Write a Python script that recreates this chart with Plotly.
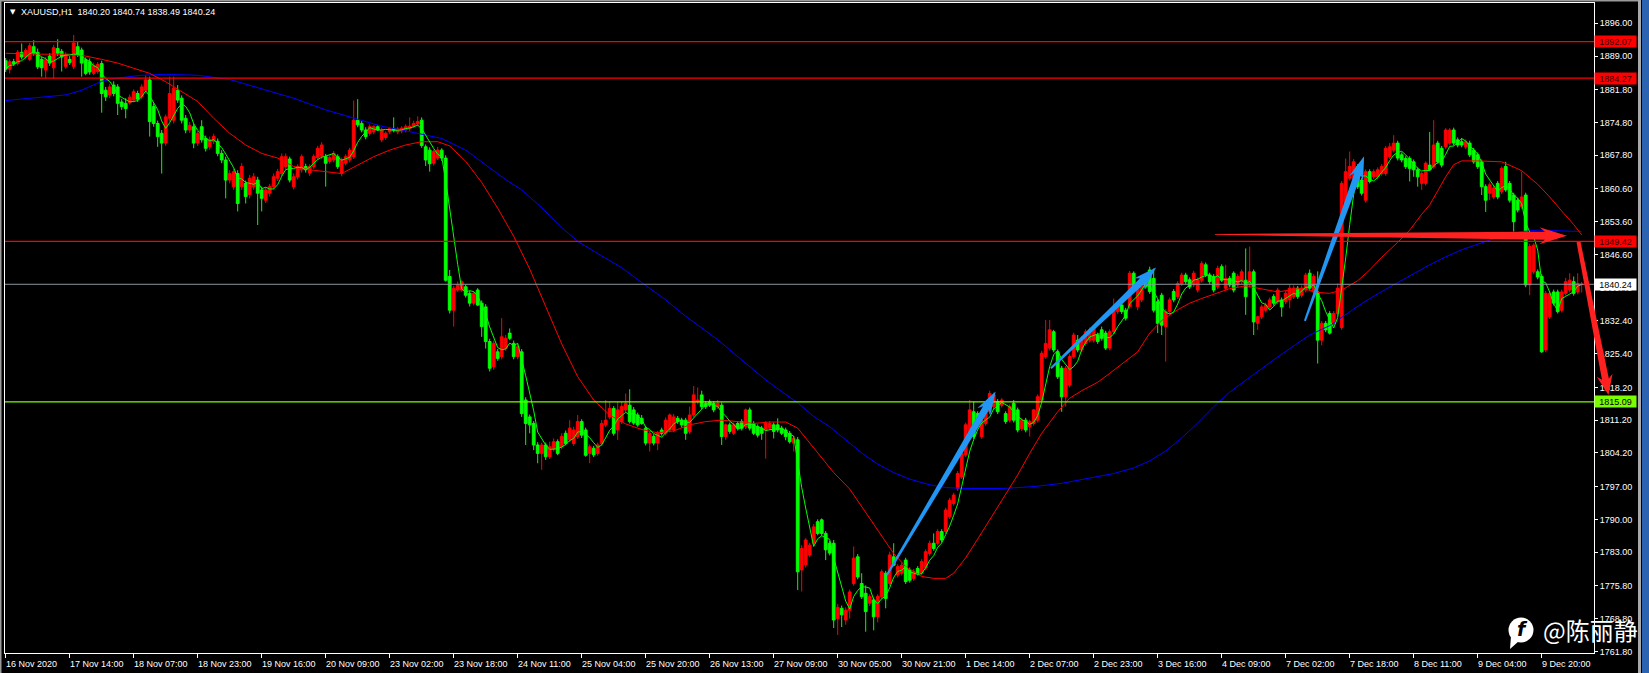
import math
import pandas as pd
import plotly.graph_objects as go

# ---------------- data (XAUUSD H1) ----------------
opens = [
    1888.0,1886.2,1887.8,1887.4,1889.8,1888.8,1888.3,1891.0,1889.8,1888.3,
    1886.0,1889.0,1886.5,1890.6,1890.0,1886.8,1888.3,1886.8,1891.0,1890.3,
    1888.2,1887.8,1885.3,1885.7,1887.4,1881.7,1880.7,1882.8,1882.4,1879.2,
    1878.9,1879.0,1879.6,1881.0,1880.3,1881.7,1883.9,1878.2,1874.6,1872.5,
    1870.4,1875.7,1875.3,1881.7,1880.0,1875.7,1873.2,1873.9,1870.4,1873.9,
    1871.4,1869.6,1870.8,1870.8,1868.2,1866.8,1862.5,1861.1,1863.9,1861.1,
    1861.8,1859.4,1861.1,1862.5,1860.4,1858.2,1859.7,1861.1,1862.9,1863.9,
    1865.4,1867.0,1861.1,1863.2,1864.7,1865.4,1864.0,1865.4,1867.3,1867.6,
    1867.5,1866.5,1866.8,1867.5,1863.9,1866.1,1866.8,1867.5,1875.3,1874.6,
    1873.2,1872.5,1872.8,1873.9,1871.1,1871.6,1872.8,1873.5,1872.8,1873.0,
    1873.2,1873.5,1874.0,1874.5,1875.3,1869.6,1868.9,1866.1,1867.2,1868.9,
    1867.2,1841.9,1834.7,1839.0,1839.0,1839.7,1838.3,1836.2,1839.0,1836.2,
    1835.4,1828.0,1822.6,1825.8,1824.8,1826.5,1829.8,1827.6,1824.8,1825.8,
    1815.5,1811.9,1810.5,1805.9,1804.1,1805.9,1803.4,1805.0,1806.6,1805.5,
    1808.4,1807.0,1806.2,1807.7,1810.9,1809.1,1804.1,1805.2,1804.1,1806.2,
    1810.2,1811.9,1813.7,1809.1,1810.9,1813.4,1814.4,1813.4,1812.3,1811.6,
    1809.5,1806.3,1807.7,1806.3,1809.1,1808.4,1809.1,1809.1,1811.6,1811.2,
    1811.2,1808.7,1812.3,1815.1,1816.6,1814.8,1815.1,1814.8,1814.1,1814.4,
    1807.7,1810.2,1808.4,1810.5,1810.9,1809.8,1813.4,1810.5,1809.8,1809.5,
    1809.1,1809.5,1810.2,1810.2,1809.5,1809.1,1808.4,1806.3,1807.0,1779.2,
    1780.3,1782.4,1784.9,1789.5,1789.9,1787.0,1784.9,1784.9,1768.8,1771.0,
    1768.5,1770.6,1776.3,1782.0,1776.3,1774.2,1772.1,1772.8,1769.2,1773.5,
    1778.5,1776.3,1782.0,1778.1,1778.5,1781.3,1779.2,1777.4,1779.5,1778.5,
    1779.6,1782.7,1784.9,1784.9,1787.4,1787.4,1790.6,1793.4,1796.6,1799.1,
    1803.8,1807.7,1813.0,1812.6,1807.7,1810.5,1813.0,1814.1,1815.2,1814.4,
    1812.6,1811.2,1814.8,1813.4,1809.4,1811.2,1809.8,1810.5,1811.2,1815.5,
    1824.8,1826.6,1830.1,1825.8,1822.3,1816.2,1818.7,1824.8,1828.3,1826.2,
    1827.6,1828.3,1828.3,1829.4,1830.5,1829.8,1826.6,1830.1,1834.4,1835.8,
    1834.7,1835.5,1842.6,1835.5,1836.9,1841.5,1843.3,1841.5,1836.5,1837.9,
    1831.2,1834.4,1838.7,1837.6,1840.4,1842.2,1841.2,1840.1,1839.0,1841.1,
    1844.4,1842.2,1841.9,1839.7,1844.0,1839.4,1841.5,1842.6,1840.1,1840.8,
    1841.1,1840.1,1842.9,1831.9,1833.3,1834.7,1835.4,1837.6,1836.5,1836.9,
    1836.5,1836.9,1837.6,1839.4,1837.9,1839.0,1842.6,1838.6,1838.6,1828.3,
    1831.9,1834.0,1831.9,1834.0,1831.0,1857.5,1862.9,1862.9,1865.4,1862.5,
    1858.2,1864.3,1863.2,1863.2,1863.9,1863.9,1867.5,1868.9,1870.4,1867.9,
    1867.1,1867.1,1866.4,1864.7,1861.8,1861.8,1865.7,1865.4,1870.4,1869.3,
    1869.6,1870.4,1873.2,1871.1,1870.7,1869.6,1870.4,1868.9,1867.9,1866.4,
    1861.1,1859.7,1858.9,1861.8,1860.0,1865.4,1861.8,1859.3,1858.2,1856.8,
    1859.3,1840.1,1842.9,1842.9,1841.9,1826.2,1833.3,1838.6,1838.6,1834.7,
    1838.3,1839.0,1840.8,1838.6,1840.20,
]
highs = [
    1888.6,1888.3,1888.4,1890.3,1891.7,1890.7,1891.8,1892.4,1890.6,1888.8,
    1888.8,1889.6,1891.4,1892.6,1890.5,1889.8,1889.0,1893.5,1892.1,1890.8,
    1888.7,1888.5,1887.6,1887.7,1888.0,1882.4,1883.0,1883.6,1883.0,1879.8,
    1880.0,1880.8,1881.9,1881.6,1883.0,1884.9,1884.6,1878.9,1875.2,1873.2,
    1876.5,1884.6,1884.6,1882.8,1880.6,1876.4,1874.9,1874.6,1873.0,1875.3,
    1872.0,1871.8,1872.4,1871.4,1868.9,1867.5,1864.6,1864.9,1864.6,1866.1,
    1862.4,1863.6,1864.0,1863.2,1861.1,1861.0,1861.7,1863.9,1864.9,1868.2,
    1868.2,1867.5,1863.9,1865.9,1868.0,1866.0,1865.9,1868.0,1869.8,1870.6,
    1868.1,1867.8,1868.7,1868.0,1867.3,1868.0,1869.4,1879.5,1879.8,1875.1,
    1873.8,1874.4,1874.2,1874.3,1873.7,1872.9,1873.9,1875.9,1873.8,1874.0,
    1874.4,1875.9,1875.2,1876.1,1875.9,1870.1,1869.5,1869.0,1869.6,1869.3,
    1867.8,1843.3,1839.9,1840.8,1841.1,1840.2,1838.8,1838.8,1839.4,1836.8,
    1836.0,1828.6,1828.2,1826.4,1833.0,1829.4,1830.8,1828.2,1827.6,1826.4,
    1816.1,1812.4,1811.0,1806.5,1806.4,1806.4,1806.6,1807.3,1807.1,1808.4,
    1809.0,1811.2,1809.8,1812.3,1811.4,1809.6,1806.0,1805.7,1806.4,1811.2,
    1815.5,1815.1,1814.2,1815.1,1815.1,1816.9,1817.8,1814.0,1812.8,1812.3,
    1810.0,1808.9,1808.2,1808.9,1809.6,1811.8,1812.6,1812.5,1812.1,1811.7,
    1811.7,1814.1,1818.5,1818.2,1817.5,1815.3,1815.6,1815.3,1815.5,1815.0,
    1810.5,1810.7,1810.7,1811.0,1811.4,1813.7,1813.9,1811.0,1810.3,1810.0,
    1811.0,1811.0,1810.7,1811.6,1810.0,1809.6,1808.9,1807.8,1807.6,1784.5,
    1786.0,1785.0,1789.0,1790.0,1790.2,1787.5,1785.4,1785.6,1771.9,1771.6,
    1771.2,1775.0,1784.2,1782.6,1778.5,1775.9,1774.0,1773.3,1774.0,1779.3,
    1779.0,1783.1,1784.9,1780.4,1780.8,1781.8,1779.7,1779.4,1780.0,1781.5,
    1783.6,1785.5,1787.0,1787.9,1787.9,1792.5,1794.6,1795.7,1800.3,1804.6,
    1810.7,1815.5,1815.2,1813.1,1811.7,1813.5,1817.5,1817.1,1815.7,1815.9,
    1813.1,1814.6,1815.5,1813.9,1811.7,1811.7,1811.3,1813.6,1816.7,1826.0,
    1832.6,1832.6,1830.5,1826.3,1822.8,1822.8,1825.3,1829.9,1829.4,1829.2,
    1830.6,1831.0,1831.4,1829.9,1831.2,1830.3,1830.6,1837.2,1836.7,1836.3,
    1835.2,1843.1,1843.0,1839.9,1841.1,1842.0,1844.0,1843.6,1837.0,1838.4,
    1834.9,1837.4,1839.2,1840.9,1842.7,1842.7,1841.7,1843.1,1841.7,1845.2,
    1844.9,1842.7,1842.4,1844.2,1844.5,1844.4,1842.0,1843.0,1842.4,1843.4,
    1847.9,1848.3,1843.4,1833.5,1835.9,1836.3,1837.4,1838.1,1839.5,1837.4,
    1838.8,1840.2,1840.0,1839.9,1840.0,1842.7,1843.4,1842.4,1843.0,1832.4,
    1832.4,1834.5,1834.5,1840.4,1862.3,1867.1,1868.6,1867.0,1865.9,1863.0,
    1864.8,1864.8,1864.8,1865.2,1865.9,1869.8,1870.4,1872.1,1870.9,1868.4,
    1867.6,1867.6,1866.9,1865.2,1864.3,1866.5,1872.8,1875.3,1870.9,1869.8,
    1873.6,1873.6,1873.7,1871.6,1871.5,1871.2,1870.9,1869.4,1868.4,1866.9,
    1861.6,1862.0,1861.3,1862.3,1865.4,1866.4,1862.3,1859.8,1858.7,1864.3,
    1859.8,1848.9,1849.0,1843.4,1842.4,1838.8,1838.8,1839.1,1839.1,1839.1,
    1841.6,1842.6,1841.9,1842.6,1840.74,
]
lows = [
    1885.6,1885.3,1886.9,1887.0,1888.3,1888.3,1887.9,1889.1,1886.2,1884.6,
    1884.2,1886.9,1884.2,1889.0,1885.7,1886.3,1887.1,1886.2,1888.8,1884.6,
    1884.9,1885.0,1884.9,1885.2,1876.9,1879.4,1880.0,1880.4,1876.4,1877.5,
    1875.7,1878.6,1879.1,1879.2,1879.8,1881.2,1871.8,1873.9,1869.6,1863.9,
    1869.8,1875.0,1874.6,1879.0,1874.6,1872.5,1872.6,1869.3,1869.8,1870.5,
    1868.6,1869.0,1870.2,1867.6,1866.1,1858.6,1861.8,1860.4,1855.8,1860.4,
    1857.5,1858.6,1860.4,1852.9,1855.8,1857.6,1859.0,1860.5,1862.3,1863.3,
    1864.8,1862.0,1860.5,1862.6,1864.1,1864.1,1863.4,1864.9,1866.8,1867.0,
    1861.1,1866.0,1866.3,1864.9,1863.3,1865.6,1866.3,1867.0,1873.8,1872.7,
    1871.2,1872.0,1872.3,1873.0,1870.6,1871.1,1872.3,1872.7,1872.3,1872.5,
    1872.7,1873.0,1873.6,1874.0,1869.4,1865.5,1864.3,1865.6,1866.8,1866.6,
    1840.8,1834.0,1831.2,1838.6,1838.6,1837.4,1835.5,1835.7,1835.6,1829.0,
    1826.5,1821.6,1822.0,1823.9,1824.2,1826.0,1828.3,1824.2,1824.2,1811.9,
    1805.9,1808.4,1804.8,1802.0,1800.6,1802.7,1802.9,1804.5,1803.7,1805.0,
    1805.8,1806.5,1805.7,1807.2,1807.4,1803.4,1802.0,1803.3,1803.6,1805.7,
    1809.7,1811.4,1807.9,1807.0,1810.4,1812.9,1810.5,1810.2,1809.8,1810.2,
    1805.8,1804.5,1805.8,1804.8,1807.9,1807.9,1808.6,1808.6,1810.4,1809.6,
    1807.0,1808.2,1811.8,1814.6,1813.6,1813.6,1814.0,1812.9,1813.6,1805.9,
    1807.0,1808.3,1808.0,1809.0,1809.0,1809.3,1809.0,1808.0,1807.5,1807.0,
    1803.0,1809.0,1807.3,1808.6,1808.0,1806.9,1806.2,1804.5,1774.9,1774.6,
    1779.7,1781.9,1784.4,1786.6,1786.5,1781.3,1782.3,1766.8,1765.3,1767.0,
    1767.5,1768.8,1775.8,1777.2,1773.0,1766.0,1771.5,1766.3,1768.0,1773.0,
    1771.0,1775.8,1780.0,1777.6,1778.0,1776.2,1776.5,1776.9,1778.0,1778.0,
    1779.1,1782.2,1783.3,1784.4,1785.1,1786.9,1790.1,1792.9,1796.1,1798.6,
    1803.3,1807.2,1807.2,1810.0,1807.2,1810.0,1812.5,1813.6,1812.5,1813.9,
    1810.4,1810.7,1810.7,1808.6,1808.9,1808.6,1807.7,1810.0,1810.7,1815.0,
    1824.3,1826.1,1825.7,1820.0,1813.0,1814.1,1818.2,1824.3,1825.7,1825.7,
    1827.1,1827.8,1827.8,1827.5,1828.2,1826.2,1826.1,1829.6,1833.9,1833.9,
    1832.5,1835.0,1839.0,1834.7,1836.4,1839.3,1838.2,1834.2,1829.8,1829.4,
    1823.7,1833.9,1836.4,1837.1,1839.9,1840.3,1839.2,1839.6,1838.5,1840.6,
    1841.8,1840.3,1838.5,1839.2,1840.7,1838.9,1839.6,1838.5,1839.6,1840.3,
    1833.7,1839.6,1829.4,1830.5,1832.8,1834.2,1834.9,1835.7,1836.0,1833.3,
    1836.0,1835.1,1837.1,1837.1,1837.4,1838.5,1838.9,1838.1,1823.3,1827.2,
    1830.0,1829.5,1831.4,1833.5,1830.5,1857.0,1862.4,1862.4,1860.6,1859.2,
    1857.7,1861.8,1862.7,1862.7,1863.4,1863.4,1867.0,1868.4,1866.7,1866.3,
    1864.9,1862.2,1863.2,1861.1,1860.4,1861.3,1864.5,1864.9,1866.0,1865.2,
    1869.1,1869.9,1869.9,1869.5,1869.5,1869.1,1867.4,1866.0,1864.9,1859.3,
    1855.7,1858.2,1858.4,1858.4,1859.5,1860.0,1857.7,1851.5,1855.6,1856.3,
    1839.6,1837.9,1842.4,1841.3,1825.6,1825.7,1832.8,1835.7,1834.0,1834.2,
    1837.8,1838.5,1837.8,1838.1,1838.49,
]
closes = [
    1886.2,1887.8,1887.4,1889.8,1888.8,1890.2,1891.2,1889.6,1886.7,1886.5,
    1888.2,1887.5,1890.8,1889.6,1888.8,1889.3,1887.6,1891.8,1889.3,1887.5,
    1885.3,1885.6,1887.0,1887.2,1881.0,1880.3,1882.4,1881.0,1878.9,1878.2,
    1877.8,1880.2,1881.4,1879.8,1882.4,1883.9,1875.0,1874.6,1871.8,1870.4,
    1876.0,1881.0,1882.1,1879.6,1875.3,1873.2,1874.2,1870.4,1872.5,1871.1,
    1869.3,1871.1,1871.8,1868.2,1866.8,1862.5,1863.9,1864.3,1857.5,1865.4,
    1859.0,1862.9,1863.2,1859.7,1858.6,1860.4,1861.1,1863.2,1864.3,1867.5,
    1867.5,1862.5,1863.2,1865.4,1867.5,1864.7,1865.4,1867.5,1869.3,1870.0,
    1866.1,1867.3,1868.2,1865.4,1866.8,1867.5,1868.9,1875.3,1874.3,1873.2,
    1871.8,1873.9,1873.9,1873.2,1873.2,1872.5,1873.5,1873.2,1873.4,1873.6,
    1873.9,1874.0,1874.6,1875.0,1869.9,1866.8,1866.0,1868.6,1868.9,1867.2,
    1841.1,1834.7,1839.4,1840.1,1840.8,1837.9,1836.2,1838.3,1835.8,1831.2,
    1828.0,1822.3,1827.6,1824.4,1829.0,1828.7,1828.7,1824.8,1826.9,1812.6,
    1810.5,1810.2,1805.9,1804.1,1805.9,1803.4,1805.5,1806.6,1804.1,1807.7,
    1806.2,1809.5,1809.1,1810.9,1808.0,1803.7,1805.5,1803.8,1805.9,1810.5,
    1811.2,1813.7,1808.4,1813.4,1814.1,1814.8,1810.9,1810.6,1810.2,1810.5,
    1806.3,1808.4,1806.3,1808.4,1808.4,1811.2,1812.3,1811.9,1810.9,1810.2,
    1808.4,1812.3,1816.6,1815.5,1814.1,1814.1,1814.4,1813.4,1814.8,1807.7,
    1810.2,1808.8,1810.2,1809.5,1809.5,1813.4,1809.5,1808.4,1808.0,1808.4,
    1810.5,1810.5,1808.8,1809.1,1808.4,1807.7,1806.6,1807.3,1778.8,1783.8,
    1785.6,1784.5,1788.4,1787.0,1787.0,1783.5,1782.8,1768.5,1771.2,1769.6,
    1770.6,1774.5,1781.7,1777.7,1773.5,1770.3,1773.5,1769.2,1773.5,1778.8,
    1773.1,1782.4,1780.2,1779.9,1780.2,1776.7,1777.0,1778.8,1778.5,1781.0,
    1783.1,1784.9,1783.8,1787.4,1785.6,1792.0,1794.1,1795.2,1799.8,1804.1,
    1810.2,1813.4,1807.7,1810.5,1811.2,1813.0,1816.9,1816.6,1813.0,1815.5,
    1810.9,1814.1,1811.2,1809.1,1811.2,1809.1,1810.9,1813.4,1816.2,1825.5,
    1827.6,1830.5,1826.2,1820.5,1816.2,1822.3,1824.8,1829.4,1826.2,1828.7,
    1830.1,1830.5,1830.8,1828.0,1828.7,1826.6,1830.1,1834.7,1835.8,1834.4,
    1833.0,1842.6,1839.4,1839.4,1840.8,1839.7,1838.7,1834.7,1831.9,1831.5,
    1834.4,1836.9,1836.9,1840.4,1842.2,1840.8,1839.7,1842.6,1841.2,1844.7,
    1842.2,1840.8,1839.0,1843.6,1841.1,1841.5,1840.1,1839.0,1841.9,1842.9,
    1837.6,1842.9,1832.2,1833.3,1835.4,1835.8,1836.9,1836.2,1839.0,1835.4,
    1838.3,1839.4,1839.4,1837.6,1839.4,1842.2,1839.4,1841.9,1828.3,1831.9,
    1830.5,1829.8,1834.0,1839.4,1861.8,1864.3,1865.4,1866.4,1861.1,1859.7,
    1864.3,1862.2,1864.3,1864.7,1865.4,1869.3,1869.6,1870.4,1867.2,1866.8,
    1865.4,1865.0,1864.7,1863.2,1863.9,1866.1,1864.7,1870.0,1866.4,1865.7,
    1873.2,1873.2,1870.4,1870.0,1870.0,1870.7,1867.9,1866.4,1865.4,1861.1,
    1858.2,1861.5,1860.8,1858.9,1865.0,1860.4,1858.2,1853.6,1856.1,1858.9,
    1840.1,1848.3,1848.6,1841.8,1825.8,1838.3,1838.3,1836.2,1834.4,1838.6,
    1840.8,1841.1,1838.3,1840.4,1840.24,
]

# slow moving averages (bar index, price)
red_ma_bars = [0, 8, 16, 20, 24, 28, 32, 36, 40, 44, 48, 52, 56, 60, 64, 68, 72, 76, 80, 84,
               88, 92, 96, 100, 104, 108, 111, 115, 119, 123, 127, 131, 135, 139, 143, 147, 151,
               155, 159, 163, 167, 171, 175, 179, 183, 187, 191, 195, 198, 203, 207, 211, 215,
               219, 222, 225, 229, 232, 235, 237, 240, 243, 246, 249, 253, 256, 259, 263, 266,
               269, 273, 276, 279, 283, 286, 289, 293, 296, 299, 303, 306, 310, 314, 318, 321,
               324, 328, 331, 334, 338, 341, 344, 348, 351, 354, 356, 358, 360, 362, 364, 368,
               371, 374, 377, 379, 383, 386, 389, 392, 394]
red_ma_vals = [1889.6, 1889.4, 1889.4, 1889.0, 1888.3, 1887.5, 1886.4, 1885.3, 1883.5, 1881.4,
               1879.3, 1875.7, 1872.5, 1870.0, 1868.2, 1867.2, 1865.4, 1864.7, 1864.3, 1863.9,
               1865.7, 1867.5, 1868.9, 1870.0, 1870.7, 1870.7, 1869.8, 1866.5, 1862.0, 1856.5,
               1850.5, 1843.5, 1835.5, 1827.5, 1820.5, 1815.5, 1812.3, 1810.4, 1809.2, 1808.5,
               1808.9, 1810.2, 1810.9, 1811.2, 1810.9, 1810.5, 1810.8, 1810.8, 1809.5, 1804.3,
               1800.0, 1796.5, 1791.5, 1786.5, 1782.7, 1779.9, 1777.8, 1777.4, 1777.4, 1778.5,
               1781.8, 1785.8, 1789.9, 1794.0, 1799.5, 1804.1, 1808.4, 1813.0, 1815.9, 1817.5,
               1819.3, 1821.2, 1823.2, 1825.8, 1829.8, 1832.5, 1834.8, 1836.2, 1837.2, 1838.4,
               1839.3, 1839.9, 1839.2, 1838.6, 1839.0, 1839.4, 1838.5, 1838.3, 1839.0, 1841.0,
               1843.3, 1846.0, 1849.2, 1851.8, 1855.2, 1857.2, 1860.2, 1863.2, 1865.8, 1866.6,
               1866.6, 1866.5, 1866.4, 1865.3, 1864.5, 1861.6, 1858.9, 1855.9, 1853.0, 1850.8]
blue_ma_bars = [0, 7, 15, 19, 24, 28, 34, 40, 48, 56, 64, 72, 80, 88, 94, 99, 104, 109, 115, 120,
                125, 129, 134, 139, 143, 149, 154, 159, 165, 170, 174, 178, 182, 186, 190, 194,
                198, 202, 206, 210, 214, 218, 222, 226, 231, 235, 240, 249, 257, 264, 270, 277,
                282, 286, 290, 294, 298, 302, 306, 310, 314, 318, 322, 326, 331, 335, 339, 343,
                347, 352, 356, 360, 364, 368, 371, 375, 379, 383, 388, 394]
blue_ma_vals = [1879.5, 1880.0, 1880.7, 1881.7, 1883.6, 1884.3, 1884.9, 1885.1, 1884.9, 1884.0,
                1882.0, 1880.0, 1877.5, 1875.5, 1874.0, 1873.2, 1872.3, 1871.4, 1868.9, 1865.7,
                1862.6, 1860.4, 1856.6, 1852.4, 1849.4, 1846.3, 1843.8, 1840.6, 1836.9, 1833.4,
                1830.9, 1828.4, 1825.5, 1822.6, 1819.8, 1817.3, 1814.9, 1812.0, 1809.8, 1807.0,
                1804.2, 1801.8, 1800.0, 1798.6, 1797.4, 1796.8, 1796.6, 1796.6, 1797.0, 1797.7,
                1798.6, 1799.8, 1801.0, 1802.5, 1804.6, 1807.4, 1810.6, 1814.1, 1817.2, 1819.8,
                1822.2, 1824.7, 1827.0, 1829.4, 1831.4, 1833.8, 1836.1, 1838.2, 1840.1, 1842.5,
                1844.4, 1846.1, 1847.6, 1848.8, 1849.7, 1850.7, 1851.5, 1851.8, 1851.7, 1851.5]

tick_bars = [0, 16, 32, 48, 64, 80, 96, 112, 128, 144, 160, 176, 192, 208, 224, 240, 256, 272,
             288, 304, 320, 336, 352, 368, 384]
tick_texts = ["16 Nov 2020", "17 Nov 14:00", "18 Nov 07:00", "18 Nov 23:00", "19 Nov 16:00",
              "20 Nov 09:00", "23 Nov 02:00", "23 Nov 18:00", "24 Nov 11:00", "25 Nov 04:00",
              "25 Nov 20:00", "26 Nov 13:00", "27 Nov 09:00", "30 Nov 05:00", "30 Nov 21:00",
              "1 Dec 14:00", "2 Dec 07:00", "2 Dec 23:00", "3 Dec 16:00", "4 Dec 09:00",
              "7 Dec 02:00", "7 Dec 18:00", "8 Dec 11:00", "9 Dec 04:00", "9 Dec 20:00"]
price_ticks = [1896.00, 1889.00, 1881.80, 1874.80, 1867.80, 1860.60, 1853.60, 1846.60, 1839.40,
               1832.40, 1825.40, 1818.20, 1811.20, 1804.20, 1797.00, 1790.00, 1783.00, 1775.80,
               1768.80, 1761.80]
level_prices = [1892.07, 1884.27, 1849.42, 1815.09]
level_colors = ["#FF0000", "#FF0000", "#FF0000", "#7CFC00"]
bid_price = 1840.24
symbol_title = "XAUUSD,H1\u00a0\u00a01840.20 1840.74 1838.49 1840.24"

# hand-drawn arrows: (tail bar, tail price), (tip bar, tip price)
blue_arrows = [((220.3, 1778.1), (247.5, 1817.3)),
               ((261.3, 1822.3), (287.6, 1843.8)),
               ((324.8, 1832.4), (339.6, 1867.6))]
red_arrows = [((302.3, 1850.9), (390.3, 1850.6)),
              ((393.2, 1849.3), (400.7, 1816.6))]

# ---------------- geometry ----------------
W, H = 1649, 673
ML, MR, MT, MB = 5, 55, 3, 20
PW, PH = W - ML - MR, H - MT - MB
X_RANGE = [-0.175, 397.075]
Y_RANGE = [1761.45, 1900.34]


def to_px(bar, price):
    px = ML + (bar - X_RANGE[0]) / (X_RANGE[1] - X_RANGE[0]) * PW
    py = MT + (Y_RANGE[1] - price) / (Y_RANGE[1] - Y_RANGE[0]) * PH
    return px, py


def px_to_paper(px, py):
    return (px - ML) / PW, (H - MB - py) / PH


def arrow_path(tail, tip, w_tail, w_base, head_w, head_len):
    tx, ty = to_px(*tail)
    hx, hy = to_px(*tip)
    dx, dy = hx - tx, hy - ty
    d = math.hypot(dx, dy)
    ux, uy = dx / d, dy / d
    nx, ny = -uy, ux
    bx, by = hx - ux * head_len, hy - uy * head_len
    back = head_len * 0.25
    pts = [
        (tx + nx * w_tail / 2, ty + ny * w_tail / 2),
        (bx + nx * w_base / 2, by + ny * w_base / 2),
        (bx - ux * back + nx * head_w / 2, by - uy * back + ny * head_w / 2),
        (hx, hy),
        (bx - ux * back - nx * head_w / 2, by - uy * back - ny * head_w / 2),
        (bx - nx * w_base / 2, by - ny * w_base / 2),
        (tx - nx * w_tail / 2, ty - ny * w_tail / 2),
    ]
    segs = []
    for x, y in pts:
        ppx, ppy = px_to_paper(x, y)
        segs.append(f"{ppx:.5f},{ppy:.5f}")
    return "M " + " L ".join(segs) + " Z"


bars = list(range(len(closes)))
green_ma = pd.Series(closes).rolling(5, min_periods=1).mean().tolist()

fig = go.Figure()
fig.add_trace(go.Candlestick(
    x=bars, open=opens, high=highs, low=lows, close=closes,
    increasing=dict(line=dict(color="#FF0000", width=1), fillcolor="#FF0000"),
    decreasing=dict(line=dict(color="#00FF00", width=1), fillcolor="#00FF00"),
    whiskerwidth=0, showlegend=False, hoverinfo="skip",
))
fig.add_trace(go.Scatter(x=blue_ma_bars, y=blue_ma_vals, mode="lines",
                         line=dict(color="#0000FF", width=1), showlegend=False, hoverinfo="skip"))
fig.add_trace(go.Scatter(x=red_ma_bars, y=red_ma_vals, mode="lines",
                         line=dict(color="#FF0000", width=1), showlegend=False, hoverinfo="skip"))
fig.add_trace(go.Scatter(x=bars, y=green_ma, mode="lines",
                         line=dict(color="#00FF00", width=1), showlegend=False, hoverinfo="skip"))

shapes = []
for p, c in zip(level_prices, level_colors):
    shapes.append(dict(type="line", xref="paper", yref="y", x0=0, x1=1, y0=p, y1=p,
                       line=dict(color=c, width=1.2), layer="above"))
shapes.append(dict(type="line", xref="paper", yref="y", x0=0, x1=1, y0=bid_price, y1=bid_price,
                   line=dict(color="#8C96A0", width=1), layer="above"))

for tail, tip in blue_arrows:
    shapes.append(dict(type="path", xref="paper", yref="paper",
                       path=arrow_path(tail, tip, 2.0, 7.0, 15, 19),
                       fillcolor="#2196F3", line=dict(width=0), layer="above"))
shapes.append(dict(type="path", xref="paper", yref="paper",
                   path=arrow_path(red_arrows[0][0], red_arrows[0][1], 1.0, 8.0, 17, 22),
                   fillcolor="#FF2020", line=dict(width=0), layer="above"))
shapes.append(dict(type="path", xref="paper", yref="paper",
                   path=arrow_path(red_arrows[1][0], red_arrows[1][1], 4.0, 7.0, 16, 16),
                   fillcolor="#FF2020", line=dict(width=0), layer="above"))


def rect_px(x0, y0, x1, y1, color):
    a0, b0 = px_to_paper(x0, y1)
    a1, b1 = px_to_paper(x1, y0)
    return dict(type="rect", xref="paper", yref="paper", x0=a0, x1=a1, y0=b0, y1=b1,
                fillcolor=color, line=dict(width=0), layer="above")


# window frame details (grey edge + blue scrollbar strip on the right)
shapes.append(rect_px(1638, 0, 1641, H, "#A8A8A8"))
shapes.append(rect_px(1642, 0, 1649, H, "#2B63B0"))
shapes.append(rect_px(0, 0, 1638, 1.5, "#9A9A9A"))
shapes.append(rect_px(0, 0, 1.5, H, "#9A9A9A"))

# watermark logo
cx, cy = 1521, 630
a0, b0 = px_to_paper(cx - 12.5, cy + 12.5)
a1, b1 = px_to_paper(cx + 12.5, cy - 12.5)
shapes.append(dict(type="circle", xref="paper", yref="paper", x0=a0, x1=a1, y0=b0, y1=b1,
                   fillcolor="white", line=dict(width=0), layer="above"))
tri = [px_to_paper(1511, 636), px_to_paper(1519, 641), px_to_paper(1510, 649)]
shapes.append(dict(type="path", xref="paper", yref="paper",
                   path="M " + " L ".join(f"{u:.5f},{v:.5f}" for u, v in tri) + " Z",
                   fillcolor="white", line=dict(width=0), layer="above"))

annotations = []
for b, t in zip(tick_bars, tick_texts):
    annotations.append(dict(x=b, xref="x", y=0, yref="paper", text=t, showarrow=False,
                            xanchor="left", yanchor="middle", xshift=-2, yshift=-11,
                            font=dict(family="Liberation Sans, Arial", size=9, color="white")))

box_prices = level_prices + [bid_price]
box_bg = ["#FF0000", "#FF0000", "#FF0000", "#7CFC00", "#FFFFFF"]
box_fg = ["#3A0000", "#3A0000", "#3A0000", "#000000", "#000000"]
for p, bg, fg in zip(box_prices, box_bg, box_fg):
    annotations.append(dict(x=1, xref="paper", y=p, yref="y", text=f"{p:.2f}", showarrow=False,
                            xanchor="left", yanchor="middle", xshift=0, width=39, height=9,
                            borderpad=1, bgcolor=bg, align="center",
                            font=dict(family="Liberation Sans, Arial", size=9, color=fg)))

tx_, ty_ = px_to_paper(12.5, 12)
annotations.append(dict(x=tx_, y=ty_, xref="paper", yref="paper", text="\u25bc", showarrow=False,
                        xanchor="center", yanchor="middle",
                        font=dict(family="DejaVu Sans", size=7, color="white")))
tx_, ty_ = px_to_paper(18.5, 12.5)
annotations.append(dict(x=tx_, y=ty_, xref="paper", yref="paper", text=symbol_title,
                        showarrow=False, xanchor="left", yanchor="middle",
                        font=dict(family="Liberation Sans, Arial", size=9, color="white")))

fx, fy = px_to_paper(1522, 629)
annotations.append(dict(x=fx, y=fy, xref="paper", yref="paper", text="<b><i>f</i></b>",
                        showarrow=False, xanchor="center", yanchor="middle",
                        font=dict(family="DejaVu Sans", size=19, color="black")))
wx, wy = px_to_paper(1541, 629)
annotations.append(dict(x=wx, y=wy, xref="paper", yref="paper", text="@陈丽静", showarrow=False,
                        xanchor="left", yanchor="middle",
                        font=dict(family="Noto Sans CJK SC", size=24, color="white")))

fig.update_layout(
    width=W, height=H,
    margin=dict(l=ML, r=MR, t=MT, b=MB, pad=0, autoexpand=False),
    paper_bgcolor="black", plot_bgcolor="black",
    showlegend=False, boxgap=0.3, boxgroupgap=0,
    shapes=shapes, annotations=annotations,
    xaxis=dict(range=X_RANGE, showgrid=False, zeroline=False, showline=True, mirror=True,
               linecolor="white", linewidth=1, ticks="outside", ticklen=4, tickcolor="white",
               tickvals=tick_bars, ticktext=[""] * len(tick_bars), rangeslider=dict(visible=False),
               fixedrange=True, automargin=False),
    yaxis=dict(range=Y_RANGE, side="right", showgrid=False, zeroline=False, showline=True,
               mirror=True, linecolor="white", linewidth=1, ticks="outside", ticklen=3,
               tickcolor="white", tickvals=price_ticks,
               ticktext=[f"{v:.2f}" for v in price_ticks],
               tickfont=dict(family="Liberation Sans, Arial", size=9, color="white"),
               fixedrange=True, automargin=False),
)

fig.write_html(
    "out.html",
    config={"displayModeBar": False},
    post_script="document.body.style.margin='0';document.body.style.padding='0';"
                "document.body.style.background='black';document.body.style.overflow='hidden';",
)
